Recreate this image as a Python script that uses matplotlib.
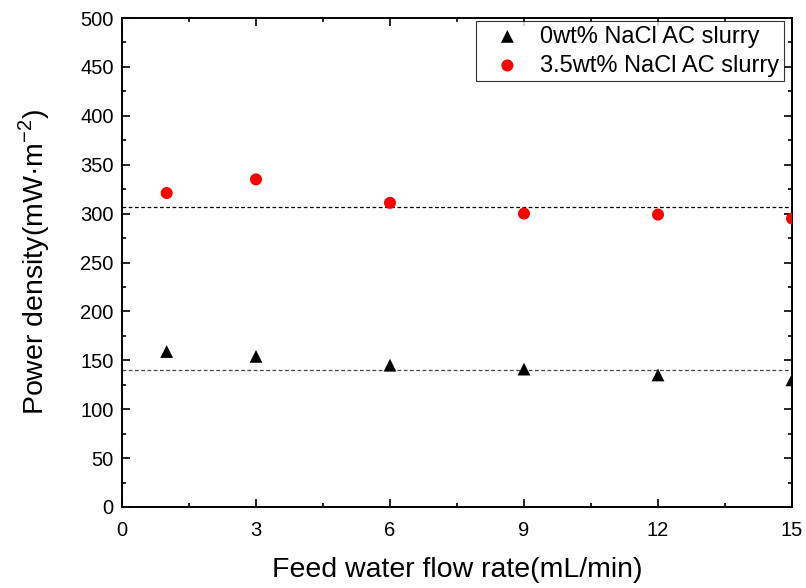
import matplotlib.pyplot as plt
from matplotlib.ticker import MultipleLocator

plt.rcParams['font.family'] = ['Liberation Sans', 'DejaVu Sans']

flow_rate = [1, 3, 6, 9, 12, 15]
power_0wt = [159, 154, 145, 141, 135, 130]
power_35wt = [321, 335, 311, 300, 299, 295]
mean_0wt = 140.5
mean_35wt = 307

fig = plt.figure(figsize=(8.06, 5.88), dpi=100)
ax = fig.add_axes([122 / 806, 81 / 588, 670 / 806, 489 / 588])

ax.axhline(mean_35wt, color='black', lw=0.9, ls=(0, (3, 2)), zorder=1)
ax.axhline(mean_0wt, color='#444444', lw=0.9, ls=(0, (3, 2)), zorder=1)

ax.scatter(flow_rate, power_0wt, marker='^', s=85, color='black',
           edgecolors='none', label='0wt% NaCl AC slurry', zorder=3)
ax.scatter(flow_rate, power_35wt, marker='o', s=75, color='#ff0000',
           edgecolors='none', label='3.5wt% NaCl AC slurry', zorder=3)

ax.set_xlim(0, 15)
ax.set_ylim(0, 500)
ax.xaxis.set_major_locator(MultipleLocator(3))
ax.xaxis.set_minor_locator(MultipleLocator(1.5))
ax.yaxis.set_major_locator(MultipleLocator(50))
ax.yaxis.set_minor_locator(MultipleLocator(25))
ax.tick_params(which='both', direction='in', top=True, right=True,
               labelsize=14.5, width=1.2)
ax.tick_params(which='major', length=6, pad=6)
ax.tick_params(axis='x', which='major', pad=10)
ax.tick_params(which='minor', length=3)
for sp in ax.spines.values():
    sp.set_linewidth(1.4)

ax.set_xlabel('Feed water flow rate(mL/min)', fontsize=20.5, labelpad=12)
ax.set_ylabel('Power density(mW·m$^{\\mathregular{-2}}$)',
              fontsize=20.5, labelpad=20)

leg = ax.legend(loc='upper right', bbox_to_anchor=(0.992, 0.999), fontsize=17,
                frameon=True, fancybox=False, edgecolor='black',
                handletextpad=0.25, borderpad=0.2, labelspacing=0.3,
                handlelength=2.3, borderaxespad=0.1, scatterpoints=1)
leg.get_frame().set_linewidth(0.8)

fig.savefig('out.png', dpi=100)
